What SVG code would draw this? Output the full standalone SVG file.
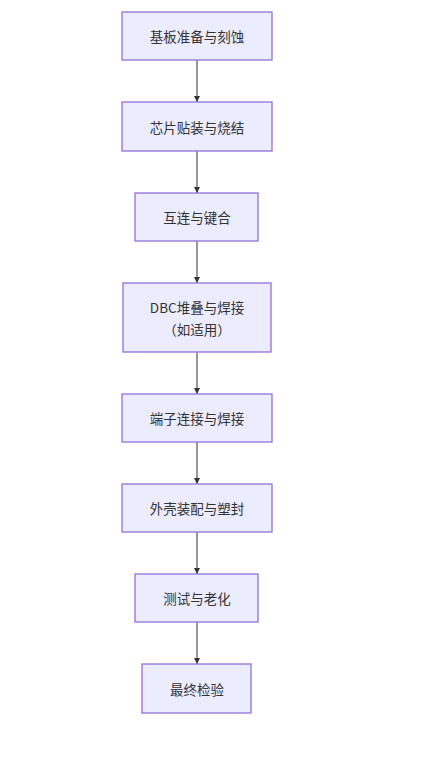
<svg xmlns="http://www.w3.org/2000/svg" width="432" height="759" viewBox="0 0 432 759">
<style>
.n rect{fill:#ECECFF;stroke:#9370DB;stroke-width:1.3}
.n text{font-family:"Noto Sans CJK SC","Liberation Sans",sans-serif;font-size:13.5px;fill:#333;text-anchor:middle;dominant-baseline:central}
.e path{stroke:#333;stroke-width:1;fill:none}
</style>
<defs>
<marker id="ah" viewBox="0 0 10 10" refX="10" refY="5" markerWidth="6.5" markerHeight="6.5" markerUnits="userSpaceOnUse" orient="auto">
<path d="M0,0 L10,5 L0,10 z" fill="#333"/>
</marker>
</defs>
<rect width="432" height="759" fill="#fff"/>
<g id="edges" class="e">
<path d="M197,60 V102" marker-end="url(#ah)"/>
<path d="M197,151 V193" marker-end="url(#ah)"/>
<path d="M197,241 V283" marker-end="url(#ah)"/>
<path d="M197,352 V394" marker-end="url(#ah)"/>
<path d="M197,442 V484" marker-end="url(#ah)"/>
<path d="M197,532 V574" marker-end="url(#ah)"/>
<path d="M197,622 V664" marker-end="url(#ah)"/>
</g>
<g id="A" class="n"><rect x="122" y="12" width="150" height="48"/><text x="197" y="36">基板准备与刻蚀</text></g>
<g id="B" class="n"><rect x="122" y="102" width="150" height="49"/><text x="197" y="126.5">芯片贴装与烧结</text></g>
<g id="C" class="n"><rect x="135" y="193" width="123" height="48"/><text x="197" y="217">互连与键合</text></g>
<g id="D" class="n"><rect x="123" y="283" width="148" height="69"/><text x="197" y="307">DBC堆叠与焊接</text><text x="197" y="329">（如适用）</text></g>
<g id="E" class="n"><rect x="122" y="394" width="150" height="48"/><text x="197" y="418">端子连接与焊接</text></g>
<g id="F" class="n"><rect x="122" y="484" width="150" height="48"/><text x="197" y="508">外壳装配与塑封</text></g>
<g id="G" class="n"><rect x="135" y="574" width="123" height="48"/><text x="197" y="598">测试与老化</text></g>
<g id="H" class="n"><rect x="142" y="664" width="109" height="49"/><text x="197" y="688.5">最终检验</text></g>
</svg>
